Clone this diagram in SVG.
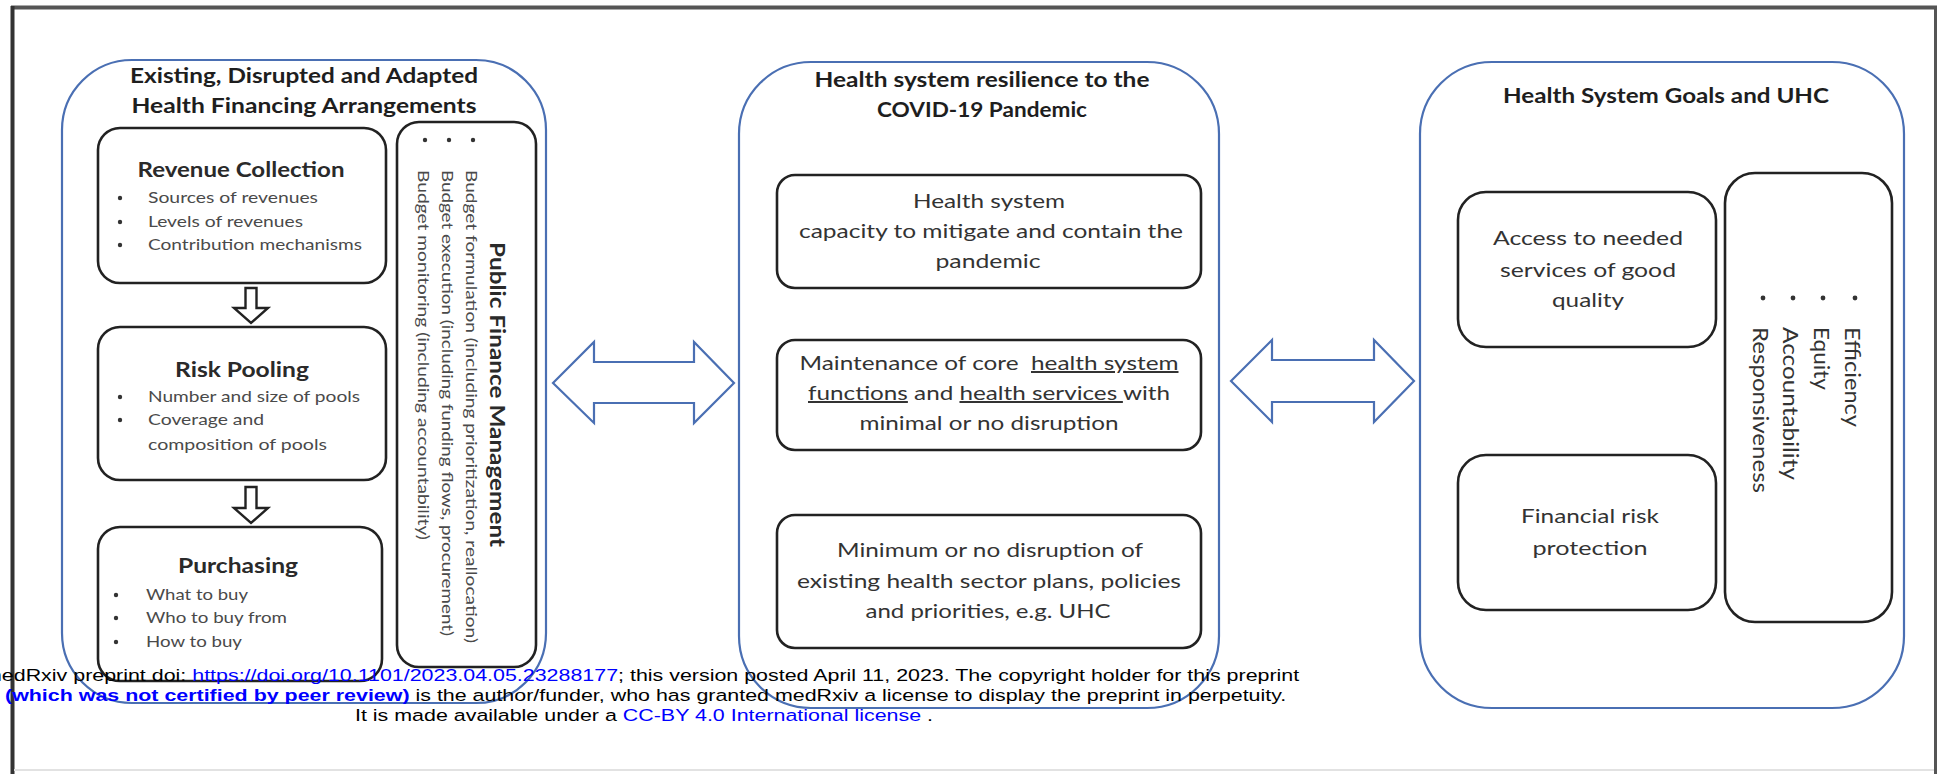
<svg xmlns="http://www.w3.org/2000/svg" width="1940" height="774" viewBox="0 0 1940 774">
<style>
.cont{fill:none;stroke:#4a6fb3;stroke-width:2.2}
.box{fill:#fff;stroke:#222;stroke-width:2.6}
.barrow{fill:#fff;stroke:#4a6fb3;stroke-width:2.2;stroke-linejoin:miter}
.darrow{fill:#fff;stroke:#222;stroke-width:2.4;stroke-linejoin:miter}
.ttl{font-family:Lato,"Liberation Sans",sans-serif;font-weight:700;font-size:20px;fill:#1e1e1e}
.hdr{font-family:Lato,"Liberation Sans",sans-serif;font-weight:700;font-size:21px;fill:#2a2a2a}
.bul{font-family:Lato,"Liberation Sans",sans-serif;font-size:16px;fill:#4a4a4a}
.body{font-family:Lato,"Liberation Sans",sans-serif;font-size:20px;fill:#333}
.vb{font-family:Lato,"Liberation Sans",sans-serif;font-size:22px;fill:#333}
.dot{fill:#333}
.wm{font-family:"Liberation Sans",Arial,sans-serif;font-size:17px;fill:#000}
.blue{fill:#0000ff}
</style>
<rect x="0" y="0" width="1940" height="774" fill="#fff"/>
<g id="frame">
<line x1="11" y1="7.5" x2="1937" y2="7.5" stroke="#555" stroke-width="4"/>
<line x1="12.5" y1="6" x2="12.5" y2="774" stroke="#333" stroke-width="4"/>
<line x1="1935.5" y1="6" x2="1935.5" y2="774" stroke="#555" stroke-width="3"/>
<line x1="14" y1="770" x2="1934" y2="770" stroke="#e2e2e2" stroke-width="2"/>
</g>
<g id="financing">
<rect class="cont" x="62" y="60" width="484" height="643" rx="70" ry="70"/>
<text class="ttl" x="304" y="83" text-anchor="middle" textLength="348" lengthAdjust="spacingAndGlyphs">Existing, Disrupted and Adapted</text>
<text class="ttl" x="304" y="113" text-anchor="middle" textLength="345" lengthAdjust="spacingAndGlyphs">Health Financing Arrangements</text>
</g>
<g id="revenue">
<rect class="box" x="98" y="128" width="288" height="155" rx="22" ry="22"/>
<text class="hdr" x="241" y="177" text-anchor="middle" textLength="207" lengthAdjust="spacingAndGlyphs">Revenue Collection</text>
<circle class="dot" cx="120" cy="198" r="2.2"/><circle class="dot" cx="120" cy="222" r="2.2"/><circle class="dot" cx="120" cy="245" r="2.2"/>
<text class="bul" x="148" y="203" textLength="170" lengthAdjust="spacingAndGlyphs">Sources of revenues</text>
<text class="bul" x="148" y="227" textLength="155" lengthAdjust="spacingAndGlyphs">Levels of revenues</text>
<text class="bul" x="148" y="250" textLength="214" lengthAdjust="spacingAndGlyphs">Contribution mechanisms</text>
</g>
<g id="pooling">
<rect class="box" x="98" y="327" width="288" height="153" rx="22" ry="22"/>
<text class="hdr" x="242" y="377" text-anchor="middle" textLength="134" lengthAdjust="spacingAndGlyphs">Risk Pooling</text>
<circle class="dot" cx="120" cy="397" r="2.2"/><circle class="dot" cx="120" cy="420" r="2.2"/>
<text class="bul" x="148" y="402" textLength="212" lengthAdjust="spacingAndGlyphs">Number and size of pools</text>
<text class="bul" x="148" y="425" textLength="116" lengthAdjust="spacingAndGlyphs">Coverage and</text>
<text class="bul" x="148" y="450" textLength="179" lengthAdjust="spacingAndGlyphs">composition of pools</text>
</g>
<g id="purchasing">
<rect class="box" x="98" y="527" width="284" height="154" rx="22" ry="22"/>
<text class="hdr" x="238" y="573" text-anchor="middle" textLength="120" lengthAdjust="spacingAndGlyphs">Purchasing</text>
<circle class="dot" cx="116" cy="595" r="2.2"/><circle class="dot" cx="116" cy="618" r="2.2"/><circle class="dot" cx="116" cy="642" r="2.2"/>
<text class="bul" x="146" y="600" textLength="102" lengthAdjust="spacingAndGlyphs">What to buy</text>
<text class="bul" x="146" y="623" textLength="141" lengthAdjust="spacingAndGlyphs">Who to buy from</text>
<text class="bul" x="146" y="647" textLength="96" lengthAdjust="spacingAndGlyphs">How to buy</text>
</g>
<g id="pfm">
<rect class="box" x="397" y="122" width="139" height="545" rx="22" ry="22"/>
<text class="hdr" transform="translate(498,394.5) rotate(90)" text-anchor="middle" dominant-baseline="central" textLength="305" lengthAdjust="spacingAndGlyphs">Public Finance Management</text>
<circle class="dot" cx="473" cy="140" r="2.2"/><circle class="dot" cx="449" cy="140" r="2.2"/><circle class="dot" cx="425" cy="140" r="2.2"/>
<text class="bul" transform="translate(472,170) rotate(90)" dominant-baseline="central" textLength="473" lengthAdjust="spacingAndGlyphs">Budget formulation (including prioritization, reallocation)</text>
<text class="bul" transform="translate(448,170) rotate(90)" dominant-baseline="central" textLength="466" lengthAdjust="spacingAndGlyphs">Budget execution (including funding flows, procurement)</text>
<text class="bul" transform="translate(424,170) rotate(90)" dominant-baseline="central" textLength="370" lengthAdjust="spacingAndGlyphs">Budget monitoring (including accountability)</text>
</g>
<g id="resilience">
<rect class="cont" x="739" y="62" width="480" height="646" rx="72" ry="72"/>
<text class="ttl" x="982" y="87" text-anchor="middle" textLength="335" lengthAdjust="spacingAndGlyphs">Health system resilience to the</text>
<text class="ttl" x="982" y="117" text-anchor="middle" textLength="210" lengthAdjust="spacingAndGlyphs">COVID-19 Pandemic</text>
</g>
<g id="capacity">
<rect class="box" x="777" y="175" width="424" height="113" rx="18" ry="18"/>
<text class="body" x="989" y="208" text-anchor="middle" textLength="152" lengthAdjust="spacingAndGlyphs">Health system</text>
<text class="body" x="991" y="238" text-anchor="middle" textLength="384" lengthAdjust="spacingAndGlyphs">capacity to mitigate and contain the</text>
<text class="body" x="988" y="268" text-anchor="middle" textLength="105" lengthAdjust="spacingAndGlyphs">pandemic</text>
</g>
<g id="maintenance">
<rect class="box" x="777" y="340" width="424" height="110" rx="18" ry="18"/>
<text class="body" x="989" y="370" text-anchor="middle" textLength="379" lengthAdjust="spacingAndGlyphs" xml:space="preserve">Maintenance of core  <tspan text-decoration="underline">health system</tspan></text>
<text class="body" x="989" y="400" text-anchor="middle" textLength="362" lengthAdjust="spacingAndGlyphs"><tspan text-decoration="underline">functions</tspan> and <tspan text-decoration="underline">health services </tspan>with</text>
<text class="body" x="989" y="430" text-anchor="middle" textLength="259" lengthAdjust="spacingAndGlyphs">minimal or no disruption</text>
</g>
<g id="plans">
<rect class="box" x="777" y="515" width="424" height="133" rx="18" ry="18"/>
<text class="body" x="990" y="557" text-anchor="middle" textLength="306" lengthAdjust="spacingAndGlyphs">Minimum or no disruption of</text>
<text class="body" x="989" y="588" text-anchor="middle" textLength="384" lengthAdjust="spacingAndGlyphs">existing health sector plans, policies</text>
<text class="body" x="988" y="618" text-anchor="middle" textLength="245" lengthAdjust="spacingAndGlyphs">and priorities, e.g. UHC</text>
</g>
<g id="goals">
<rect class="cont" x="1420" y="62" width="484" height="646" rx="72" ry="72"/>
<text class="ttl" x="1666" y="103" text-anchor="middle" textLength="326" lengthAdjust="spacingAndGlyphs">Health System Goals and UHC</text>
</g>
<g id="access">
<rect class="box" x="1458" y="192" width="258" height="155" rx="28" ry="28"/>
<text class="body" x="1588" y="245" text-anchor="middle" textLength="190" lengthAdjust="spacingAndGlyphs">Access to needed</text>
<text class="body" x="1588" y="277" text-anchor="middle" textLength="176" lengthAdjust="spacingAndGlyphs">services of good</text>
<text class="body" x="1588" y="307" text-anchor="middle" textLength="72" lengthAdjust="spacingAndGlyphs">quality</text>
</g>
<g id="protection">
<rect class="box" x="1458" y="455" width="258" height="155" rx="28" ry="28"/>
<text class="body" x="1590" y="523" text-anchor="middle" textLength="138" lengthAdjust="spacingAndGlyphs">Financial risk</text>
<text class="body" x="1590" y="555" text-anchor="middle" textLength="115" lengthAdjust="spacingAndGlyphs">protection</text>
</g>
<g id="values">
<rect class="box" x="1725" y="173" width="167" height="449" rx="30" ry="30"/>
<circle class="dot" cx="1855" cy="298" r="2.4"/><circle class="dot" cx="1823" cy="298" r="2.4"/><circle class="dot" cx="1793" cy="298" r="2.4"/><circle class="dot" cx="1763" cy="298" r="2.4"/>
<text class="vb" transform="translate(1853,327) rotate(90)" dominant-baseline="central" textLength="100" lengthAdjust="spacingAndGlyphs">Efficiency</text>
<text class="vb" transform="translate(1822,327) rotate(90)" dominant-baseline="central" textLength="63" lengthAdjust="spacingAndGlyphs">Equity</text>
<text class="vb" transform="translate(1791,327) rotate(90)" dominant-baseline="central" textLength="153" lengthAdjust="spacingAndGlyphs">Accountability</text>
<text class="vb" transform="translate(1761,327) rotate(90)" dominant-baseline="central" textLength="166" lengthAdjust="spacingAndGlyphs">Responsiveness</text>
</g>
<g id="connectors">
<polygon class="darrow" points="245.5,288 256.5,288 256.5,308 268,308 251,323 234,308 245.5,308"/>
<polygon class="darrow" points="245.5,487 256.5,487 256.5,508 268,508 251,523 234,508 245.5,508"/>
<polygon class="barrow" points="553,383 594,342 594,362 694,362 694,342 734,383 694,423 694,403 594,403 594,423"/>
<polygon class="barrow" points="1231,381 1272,340 1272,360 1374,360 1374,340 1414,381 1374,422 1374,402 1272,402 1272,422"/>
</g>
<g id="watermark">
<text class="wm" transform="translate(-16,681) scale(1.26,1)">medRxiv preprint doi: <tspan class="blue">https://doi.org/10.1101/2023.04.05.23288177</tspan>; this version posted April 11, 2023. The copyright holder for this preprint</text>
<text class="wm" transform="translate(5,701) scale(1.26,1)"><tspan class="blue" font-weight="700">(which was not certified by peer review)</tspan> is the author/funder, who has granted medRxiv a license to display the preprint in perpetuity.</text>
<text class="wm" transform="translate(355,721) scale(1.26,1)">It is made available under a <tspan class="blue">CC-BY 4.0 International license</tspan> .</text>
</g>
</svg>
